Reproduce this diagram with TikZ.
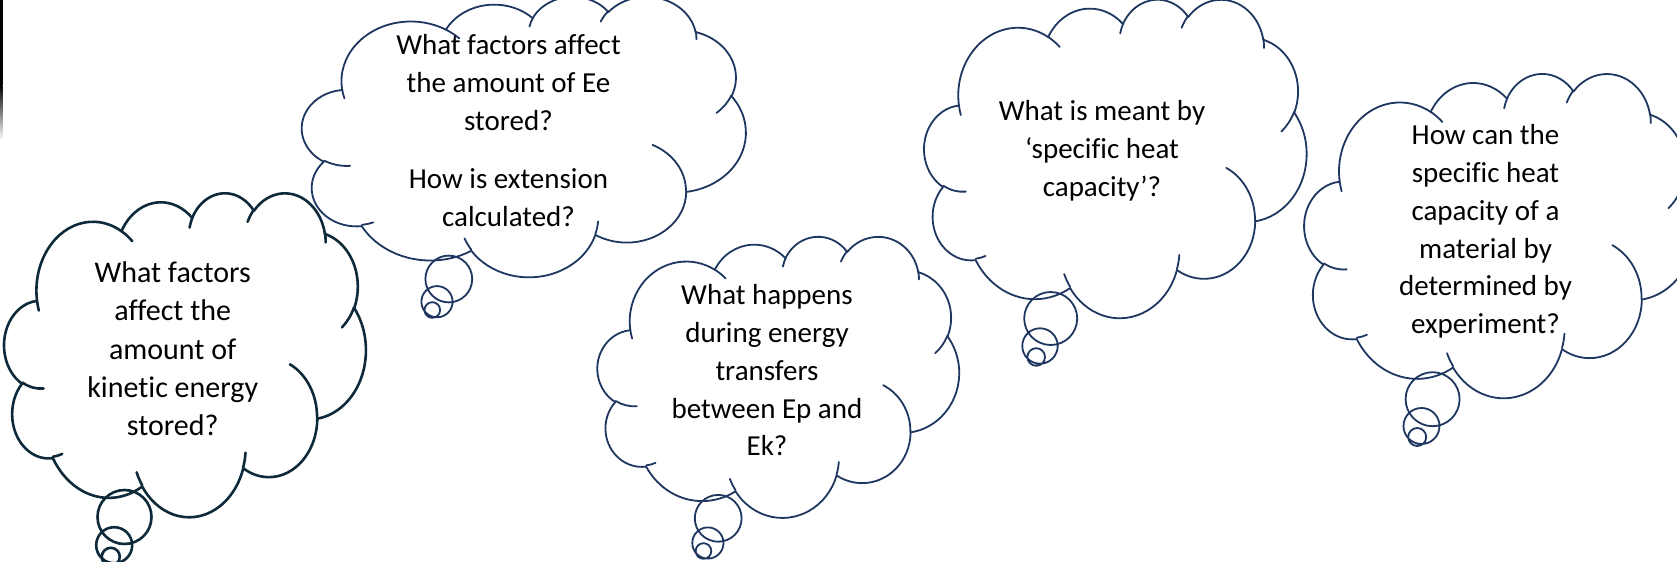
\documentclass[tikz,border=0pt]{standalone}
\usepackage{fontspec}
\setmainfont{Carlito}[Ligatures=CommonOff]
\usepackage{tikz}
\definecolor{cdark}{RGB}{14,42,58}
\definecolor{cnavy}{RGB}{30,54,96}

% one lobe of a cloud, drawn on from (cp): style, x radius, y radius, start, sweep
\newcommand\cloudlobe[5]{%
  \pgfmathsetmacro\lobeA{atan2((#2)*sin(#4),(#3)*cos(#4))}%
  \pgfmathsetmacro\lobeB{atan2((#2)*sin((#4)+(#5)),(#3)*cos((#4)+(#5)))}%
  \pgfmathsetmacro\lobeD{mod(\lobeB-(\lobeA)+720,360)}%
  \draw[#1] (cp) arc[x radius=#2,y radius=#3,start angle=\lobeA,delta angle=\lobeD] coordinate (cp);}

% a thought cloud in the box with corner (#2,#3), width #4, height #5
\newcommand\thoughtcloud[5]{%
  \pgfmathsetmacro\cloudW{#4*0.5/4.32}%
  \pgfmathsetmacro\cloudH{#5*0.5/4.32}%
  \begin{scope}[shift={(#2,#3)},x=\cloudW pt,y=-\cloudH pt]
    \coordinate (cp) at (0.39,1.437);
    \foreach \rx/\ry/\st/\sw in {0.6753/0.9190/-190.4875/123.7805,
        0.5333/0.7267/-144.1024/89.9452, 0.4365/0.5945/-145.8079/99.7230,
        0.4857/0.6595/-130.9861/117.2417, 0.5333/0.7273/-78.7089/109.0269,
        0.6775/0.9220/-46.2673/130.2690, 0.5785/0.7867/0.6250/114.0333,
        0.6752/0.9215/22.4516/115.1726, 0.7720/1.0543/66.2426/75.7110,
        0.4360/0.5918/-274.9421/146.7356, 0.4345/0.5945/-246.8285/152.5189}
      {\cloudlobe{#1}{\rx}{\ry}{\st}{\sw}}
    % inner hooks
    \foreach \px/\py/\rx/\ry/\st/\sw in {0.4693/2.6177/0.4345/0.5945/86.7420/26.4295,
        0.6928/3.4899/0.4360/0.5918/73.6105/11.4475,
        1.6478/3.9090/0.6752/0.9215/137.6242/14.0811,
        2.8827/3.4751/0.6752/0.9215/6.4533/15.9984,
        3.4129/2.2954/0.5785/0.7867/-70.2924/70.9174,
        4.1798/1.5354/0.5333/0.7273/30.3180/27.7515,
        3.8324/0.5426/0.4857/0.6595/-13.7443/14.8589,
        2.9078/0.3952/0.4857/0.6595/-149.1815/18.1954,
        2.2141/0.4720/0.4365/0.5945/-163.4943/17.6864,
        1.4000/0.5192/0.6753/0.9190/-66.7070/12.3194,
        0.4127/1.5789/0.6753/0.9190/157.6544/11.8582}
      {\coordinate (cp) at (\px,\py); \cloudlobe{#1}{\rx}{\ry}{\st}{\sw}}
  \end{scope}}

\begin{document}
\begin{tikzpicture}[x=0.5pt,y=-0.5pt,
  dark cloud/.style={draw=cdark,line width=1.3pt,line cap=round},
  navy cloud/.style={draw=cnavy,line width=0.9pt,line cap=round},
  question/.style={align=center,inner sep=0pt,anchor=north,font=\fontsize{14.5}{18.85}\selectfont}]
  \useasboundingbox (0,0) rectangle (1677,562);
  \clip (0,0) rectangle (1677,562);
  % dark strip at the left edge
  \fill[black] (0,0) rectangle (2.5,85);
  \shade[top color=black,bottom color=white] (0,85) rectangle (2.5,140);

  \thoughtcloud{dark cloud}{4.3}{192.2}{361.5}{323.9}
  \thoughtcloud{navy cloud}{302.05}{-4.1}{443.7}{280.4}
  \thoughtcloud{navy cloud}{597.6}{235.9}{361.5}{281}
  \thoughtcloud{navy cloud}{924.3}{-1.3}{382.2}{318.4}
  \thoughtcloud{navy cloud}{1304.4}{72.9}{389.7}{324.2}

  % trailing bubbles
  \draw[dark cloud] (124.5,517) circle[radius=27] (114.2,545.2) circle[radius=18]
    (110.8,556.8) circle[radius=9];
  \draw[navy cloud] (448.8,279) circle[radius=23.4] (437,301.7) circle[radius=15.6]
    (432.3,310) circle[radius=7.8];
  \draw[navy cloud] (718.2,518.3) circle[radius=23.4] (707.9,543) circle[radius=15.6]
    (703.5,551) circle[radius=7.8];
  \draw[navy cloud] (1050.7,318.5) circle[radius=26.5] (1040,346) circle[radius=17.7]
    (1036.2,357) circle[radius=8.8];
  \draw[navy cloud] (1432.6,399.2) circle[radius=27] (1421.5,426) circle[radius=18]
    (1417.2,437) circle[radius=9];

  \node[question,font=\fontsize{15}{19.1}\selectfont] (q1) at (172.7,261.4)
    {What factors\\affect the\\amount of\\kinetic energy\\stored?};
  \node[question] (q2) at (508.5,34.4)
    {What factors affect\\the amount of Ee\\stored?\\[10.4pt]How is extension\\calculated?};
  \node[question] (q3) at (767,284.4)
    {What happens\\during energy\\transfers\\between Ep and\\Ek?};
  \node[question] (q4) at (1102,100.1)
    {What is meant by\\‘specific heat\\capacity’?};
  \node[question] (q5) at (1485.5,124.4)
    {How can the\\specific heat\\capacity of a\\material by\\determined by\\experiment?};
\end{tikzpicture}
\end{document}
